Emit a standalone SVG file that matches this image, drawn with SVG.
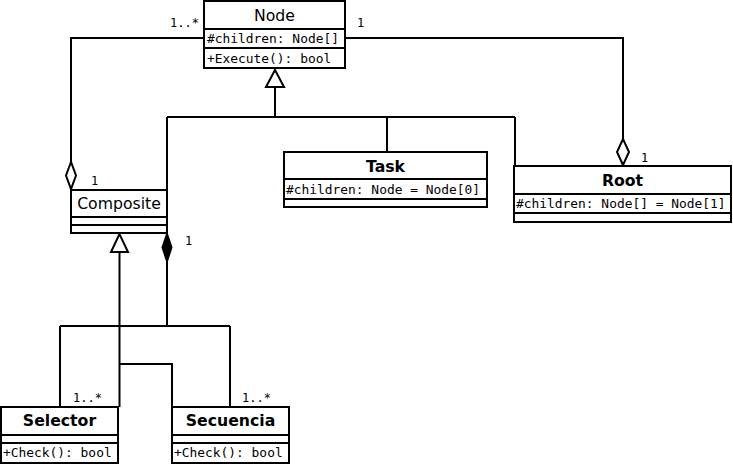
<svg xmlns="http://www.w3.org/2000/svg" width="733" height="465" viewBox="0 0 733 465">
<style>
.box{fill:#fff;stroke:#000;stroke-width:2}
.sep{stroke:#000;stroke-width:2}
.t{font-family:"DejaVu Sans",sans-serif;font-size:15.7px;text-anchor:middle;fill:#000}
.tb{font-family:"DejaVu Sans",sans-serif;font-size:15.7px;font-weight:bold;text-anchor:middle;fill:#000}
.a{font-family:"DejaVu Sans Mono",monospace;font-size:12.9px;fill:#000}
.m{font-family:"DejaVu Sans Mono",monospace;font-size:12px;fill:#000}
.c{fill:none;stroke:#000;stroke-width:2}
.open{fill:#fff;stroke:#000;stroke-width:2}
.fill{fill:#000;stroke:#000;stroke-width:2}
</style>
<rect width="733" height="465" fill="#fff"/>
<g id="connectors">
<path class="c" d="M275,87 V117 M167,117 H515 M167,117 V190 M387,117 V152 M515,117 V166"/>
<polygon class="open" points="275,70 266,87 284,87"/>
<path class="c" d="M71,162 V38 H204"/>
<polygon class="open" points="71,162 66,175.5 71,189 76,175.5"/>
<path class="c" d="M345,38 H623 V139"/>
<polygon class="open" points="623,139 617,152 623,165 629,152"/>
<path class="c" d="M119.5,252 V407 M119.5,364 H172 V407"/>
<polygon class="open" points="119.5,234 111,252 128,252"/>
<path class="c" d="M167,261 V326 M60,326 H230 M60,326 V407 M230,326 V407"/>
<polygon class="fill" points="167,234 162.5,247.5 167,261 171.5,247.5"/>
<text class="m" x="170" y="27">1..*</text>
<text class="m" x="357" y="27">1</text>
<text class="m" x="91" y="185">1</text>
<text class="m" x="185" y="245">1</text>
<text class="m" x="641" y="162">1</text>
<text class="m" x="73" y="402">1..*</text>
<text class="m" x="242" y="402">1..*</text>
</g>
<g id="node-Node">
<rect class="box" x="204" y="1" width="141" height="67"/>
<line class="sep" x1="204" y1="29" x2="345" y2="29"/>
<line class="sep" x1="204" y1="48" x2="345" y2="48"/>
<text class="t" x="274.5" y="21">Node</text>
<text class="a" x="207" y="43">#children: Node[]</text>
<text class="a" x="207" y="63">+Execute(): bool</text>
</g>
<g id="node-Composite">
<rect class="box" x="71" y="190" width="96" height="43"/>
<line class="sep" x1="71" y1="217" x2="167" y2="217"/>
<line class="sep" x1="71" y1="225" x2="167" y2="225"/>
<text class="t" x="119" y="209">Composite</text>
</g>
<g id="node-Task">
<rect class="box" x="284" y="152" width="203" height="55"/>
<line class="sep" x1="284" y1="179" x2="487" y2="179"/>
<line class="sep" x1="284" y1="199" x2="487" y2="199"/>
<text class="tb" x="385.5" y="172">Task</text>
<text class="a" x="286" y="194">#children: Node = Node[0]</text>
</g>
<g id="node-Root">
<rect class="box" x="514" y="166" width="217" height="56"/>
<line class="sep" x1="514" y1="194" x2="731" y2="194"/>
<line class="sep" x1="514" y1="213" x2="731" y2="213"/>
<text class="tb" x="622.5" y="186">Root</text>
<text class="a" x="516" y="208">#children: Node[] = Node[1]</text>
</g>
<g id="node-Selector">
<rect class="box" x="1" y="407" width="117" height="56"/>
<line class="sep" x1="1" y1="435" x2="118" y2="435"/>
<line class="sep" x1="1" y1="443" x2="118" y2="443"/>
<text class="tb" x="59.5" y="426">Selector</text>
<text class="a" x="3" y="457">+Check(): bool</text>
</g>
<g id="node-Secuencia">
<rect class="box" x="172" y="407" width="117" height="56"/>
<line class="sep" x1="172" y1="435" x2="289" y2="435"/>
<line class="sep" x1="172" y1="443" x2="289" y2="443"/>
<text class="tb" x="230.5" y="426">Secuencia</text>
<text class="a" x="174" y="457">+Check(): bool</text>
</g>
</svg>
